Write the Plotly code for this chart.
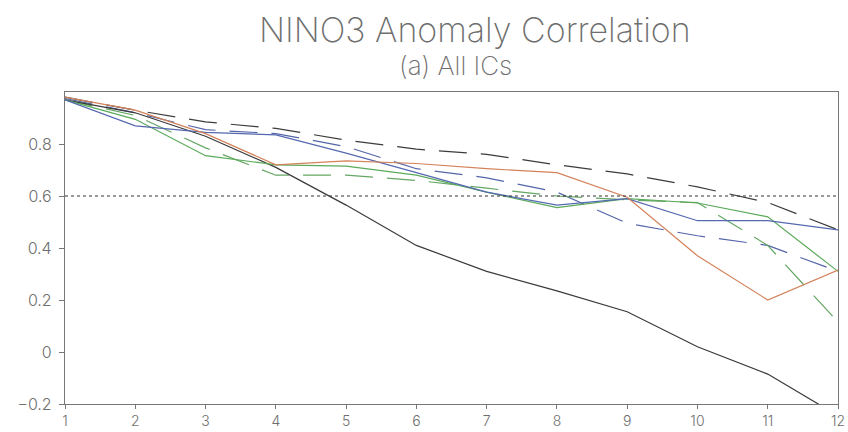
import plotly.graph_objects as go

# Forecast lead (months)
lead = list(range(1, 13))

# NINO3 anomaly correlation by lead time
persistence = [0.97, 0.92, 0.83, 0.71, 0.565, 0.41, 0.31, 0.235, 0.155, 0.02, -0.085, -0.245]
orange_solid = [0.98, 0.93, 0.84, 0.72, 0.735, 0.725, 0.705, 0.69, 0.595, 0.37, 0.20, 0.315]
blue_solid = [0.97, 0.87, 0.845, 0.835, 0.765, 0.69, 0.615, 0.565, 0.59, 0.505, 0.505, 0.47]
green_solid = [0.97, 0.895, 0.755, 0.72, 0.715, 0.68, 0.615, 0.555, 0.59, 0.573, 0.52, 0.31]
black_dashed = [0.98, 0.93, 0.885, 0.86, 0.815, 0.78, 0.76, 0.72, 0.685, 0.635, 0.575, 0.47]
blue_dashed = [0.975, 0.92, 0.855, 0.84, 0.79, 0.705, 0.67, 0.615, 0.495, 0.447, 0.41, 0.31]
green_dashed = [0.97, 0.91, 0.785, 0.68, 0.68, 0.66, 0.63, 0.60, 0.585, 0.575, 0.41, 0.115]

skill_threshold = 0.6
y_ticks = [-0.2, 0, 0.2, 0.4, 0.6, 0.8]
y_tick_text = ["\u22120.2", "0", "0.2", "0.4", "0.6", "0.8"]

LONG_DASH = "28px,14px"
FONT = "Inter"

series = [
    (black_dashed, "#3c3c3c", LONG_DASH),
    (blue_dashed, "#5466a8", LONG_DASH),
    (green_dashed, "#64a664", LONG_DASH),
    (persistence, "#3a3a3a", "solid"),
    (green_solid, "#5aaa5a", "solid"),
    (blue_solid, "#5568b0", "solid"),
    (orange_solid, "#d4825a", "solid"),
]

fig = go.Figure()
for values, color, dash in series:
    fig.add_trace(go.Scatter(
        x=lead, y=values, mode="lines",
        line=dict(color=color, width=1.2, dash=dash),
        showlegend=False, hoverinfo="skip",
    ))

fig.add_hline(y=skill_threshold, line=dict(color="#333333", width=1, dash="3px,3px"))

axis_common = dict(
    showline=True, linecolor="#777777", linewidth=1.2, mirror=True,
    showgrid=False, zeroline=False, automargin=False,
    ticks="outside", tickcolor="#777777",
)
tick_font = dict(family=FONT, color="#6e6e6e", weight=300)

plot_top, plot_bottom = 92, 28
plot_h = 432 - plot_top - plot_bottom


def title_y(y_px):
    # paper coordinate for a pixel row measured from the top of the page
    return 1 + (plot_top - y_px) / plot_h


fig.update_layout(
    width=848, height=432,
    margin=dict(l=65, r=10, t=plot_top, b=plot_bottom),
    paper_bgcolor="white", plot_bgcolor="white",
    xaxis=dict(range=[1, 12], tickvals=lead, ticklen=4, ticklabelstandoff=0,
               tickfont=dict(size=14, **tick_font), **axis_common),
    yaxis=dict(range=[-0.2, 1.0], tickvals=y_ticks, ticktext=y_tick_text, ticklen=5,
               ticklabelstandoff=4, tickfont=dict(size=16, **tick_font), **axis_common),
    annotations=[
        dict(text="NINO3 Anomaly Correlation", x=0.53, xref="paper",
             y=title_y(29), yref="paper", yanchor="middle", showarrow=False,
             font=dict(family=FONT, size=34, color="#6e6e6e", weight=200)),
        dict(text="(a) All ICs", x=0.505, xref="paper",
             y=title_y(65), yref="paper", yanchor="middle", showarrow=False,
             font=dict(family=FONT, size=26, color="#6e6e6e", weight=200)),
    ],
)

fig.write_html("out.html")
